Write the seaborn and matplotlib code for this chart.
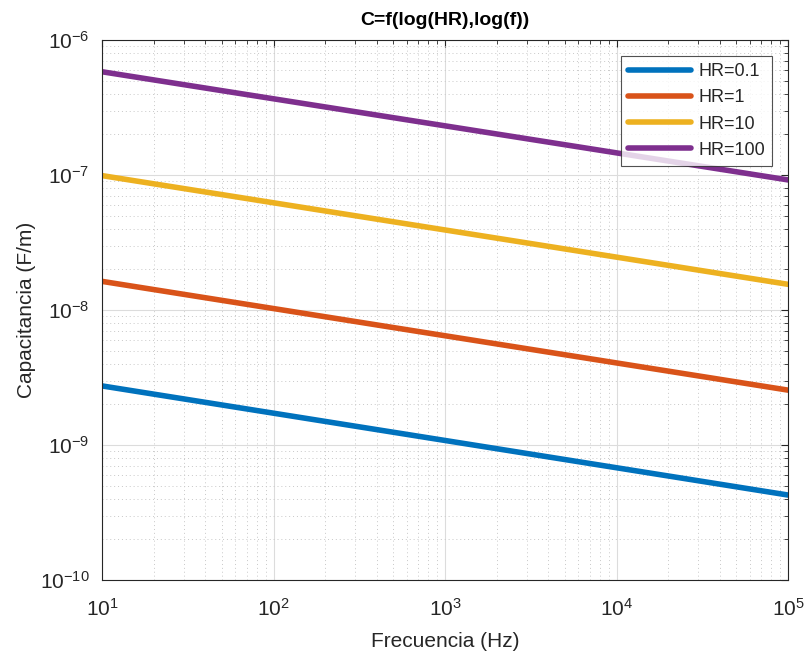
import numpy as np
import pandas as pd
import matplotlib
matplotlib.use("Agg")
import matplotlib.pyplot as plt
import seaborn as sns
from matplotlib.ticker import LogLocator, NullFormatter, FixedLocator, LogFormatterSciNotation

# Data
freq = [1e1, 1e5]
hr_labels = ["HR=0.1", "HR=1", "HR=10", "HR=100"]
cap_hr01 = [2.74e-9, 4.26e-10]
cap_hr1 = [1.63e-8, 2.55e-9]
cap_hr10 = [9.9e-8, 1.55e-8]
cap_hr100 = [5.82e-7, 9.2e-8]
colors = ["#0072BD", "#D95319", "#EDB120", "#7E2F8E"]
x_major = [1e1, 1e2, 1e3, 1e4, 1e5]
y_major = [1e-10, 1e-9, 1e-8, 1e-7, 1e-6]

rows = []
for lab, vals in zip(hr_labels, [cap_hr01, cap_hr1, cap_hr10, cap_hr100]):
    for f, c in zip(freq, vals):
        rows.append({"f": f, "C": c, "HR": lab})
df = pd.DataFrame(rows)

sns.set_style("white")
plt.rcParams["font.family"] = ["Liberation Sans", "DejaVu Sans"]
plt.rcParams["mathtext.fontset"] = "custom"
plt.rcParams["mathtext.rm"] = "Liberation Sans"
plt.rcParams["mathtext.it"] = "Liberation Sans:italic"
plt.rcParams["mathtext.bf"] = "Liberation Sans:bold"
plt.rcParams["axes.unicode_minus"] = False

fig = plt.figure(figsize=(8.06, 6.53), dpi=100)
ax = fig.add_axes([0.1266, 0.1118, 0.8511, 0.8269])

sns.lineplot(data=df, x="f", y="C", hue="HR", palette=colors, linewidth=4,
             ax=ax, legend=True)
ax.set_xscale("log")
ax.set_yscale("log")
ax.set_xlim(x_major[0], x_major[-1])
ax.set_ylim(y_major[0], y_major[-1])

ax.xaxis.set_major_locator(FixedLocator(x_major))
ax.yaxis.set_major_locator(FixedLocator(y_major))
ax.xaxis.set_major_formatter(LogFormatterSciNotation())
ax.yaxis.set_major_formatter(LogFormatterSciNotation())
x_minor = [m * d for d in x_major[:-1] for m in range(2, 10)]
y_minor = [m * d for d in y_major[:-1] for m in range(2, 10)]
ax.xaxis.set_minor_locator(FixedLocator(x_minor))
ax.yaxis.set_minor_locator(FixedLocator(y_minor))
ax.xaxis.set_minor_formatter(NullFormatter())
ax.yaxis.set_minor_formatter(NullFormatter())

ax.grid(True, which="major", color="#dcdcdc", linewidth=0.8, linestyle="-")
ax.grid(True, which="minor", color="#c8c8c8", linewidth=0.7, linestyle=(0, (1, 3)))
ax.set_axisbelow(True)

for s in ax.spines.values():
    s.set_color("#262626")
    s.set_linewidth(0.8)
ax.tick_params(which="both", direction="in", top=True, right=True,
               colors="#262626", labelsize=15)
ax.tick_params(which="major", length=5, width=0.8)
ax.tick_params(which="minor", length=3, width=0.6)
ax.tick_params(axis="x", pad=13)
ax.tick_params(axis="y", pad=9)

ax.set_xlabel("Frecuencia (Hz)", fontsize=15, color="#262626", labelpad=9)
ax.set_ylabel("Capacitancia (F/m)", fontsize=15, color="#262626", labelpad=3)
ax.set_title("C=f(log(HR),log(f))", fontsize=14, fontweight="bold", color="black", pad=11)

leg = ax.legend(loc="upper right", bbox_to_anchor=(0.977, 0.97), fontsize=13,
                handlelength=3.5, frameon=True, fancybox=False, edgecolor="#262626",
                borderpad=0.4, labelspacing=0.5, handletextpad=0.4, borderaxespad=0)
leg.get_frame().set_linewidth(0.8)
for line in leg.get_lines():
    line.set_linewidth(4)

fig.savefig("out.png", dpi=100, facecolor="white")
